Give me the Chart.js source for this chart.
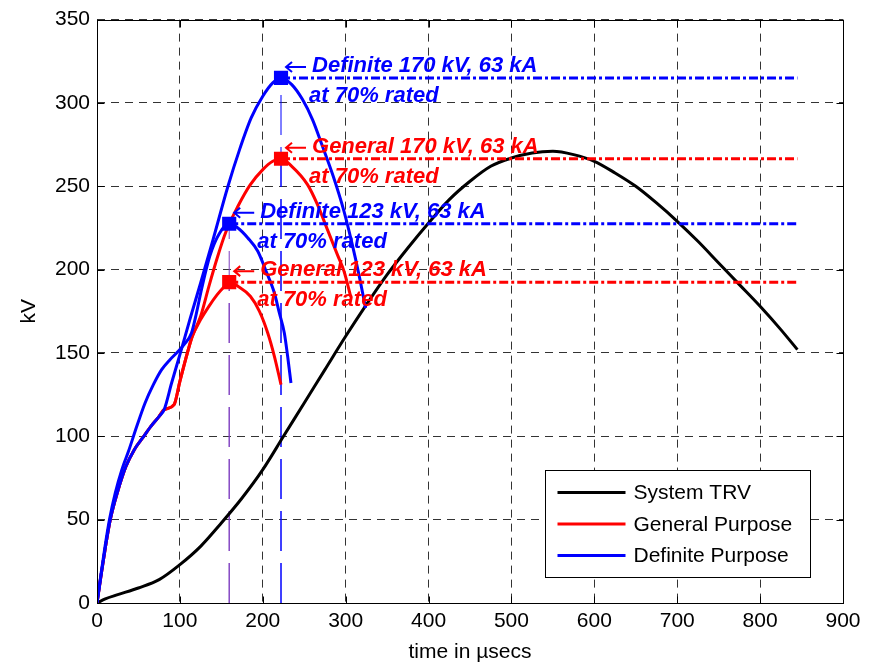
<!DOCTYPE html>
<html>
<head>
<meta charset="utf-8">
<script src="https://cdn.jsdelivr.net/npm/chart.js@4.4.1/dist/chart.umd.min.js"></script>
<style>
  html, body { margin: 0; padding: 0; background: #fff; }
  #wrap { width: 875px; height: 666px; }
</style>
</head>
<body>
<div id="wrap"><canvas id="chart" width="875" height="666"></canvas></div>
<script>
"use strict";

// System TRV (black)
const trvTime = [0, 10, 25, 50, 75, 100, 125, 150, 175, 200, 225, 250, 275, 300, 325, 350, 375, 400, 425, 450, 475, 500, 525, 550, 575, 600, 625, 650, 675, 700, 725, 750, 775, 800, 825, 845];
const trvKV = [0, 2.5, 5, 9, 14, 23, 34, 48, 63, 80, 100, 120, 140, 160, 179, 197, 213, 228, 242, 253, 262, 267, 270, 271, 269, 265, 258, 250, 240, 229, 217, 204, 191, 178, 164, 152];

// Definite purpose envelopes (blue)
const def170Time = [0, 5, 10, 16, 25, 35, 45, 55, 65, 75, 81, 90, 100, 112, 125, 140, 158, 172, 186, 200, 212, 222, 235, 248, 260, 272, 285, 298, 308, 316, 324];
const def170KV = [0, 17, 33, 50, 67, 82, 92, 99, 106, 112, 116, 132, 149, 170, 192, 218, 250, 272, 291, 304, 312, 315, 311, 302, 290, 274, 256, 235, 215, 197, 177];
const def123Time = [0, 5, 10, 15, 22, 30, 38, 48, 58, 68, 78, 88, 96, 105, 114, 120, 126, 136, 148, 159.5, 170, 182, 194, 204, 214, 220, 226, 230, 234];
const def123KV = [0, 18, 35, 50, 66, 80, 91, 106, 120, 131, 140, 146, 150, 155, 162, 174, 188, 208, 222, 227.5, 225, 219, 211, 199, 186, 174, 162, 148, 132];

// General purpose envelopes (red)
const gen170Time = [0, 5, 10, 16, 25, 35, 45, 55, 65, 75, 81, 93, 100, 109, 115, 125, 135, 145, 155, 170, 185, 200, 212, 222, 235, 254, 266, 278, 290, 298, 306];
const gen170KV = [0, 17, 33, 50, 67, 82, 92, 99, 106, 112, 116, 119, 133, 150, 160, 172, 190, 207, 222, 238, 251, 260, 265, 266.5, 262, 251, 239, 224, 209, 199, 184];
const gen123Time = [0, 5, 10, 16, 25, 35, 45, 55, 65, 75, 81, 93, 100, 109, 115, 125, 135, 145, 152, 159.5, 170, 185, 196, 206, 214, 222];
const gen123KV = [0, 17, 33, 50, 67, 82, 92, 99, 106, 112, 116, 119, 133, 150, 160, 170, 178, 185, 189, 192.5, 190, 184, 175, 162, 148, 131];

// Rated points at 70%
const ratingNames = ['Definite 170 kV, 63 kA', 'General 170 kV, 63 kA', 'Definite 123 kV, 63 kA', 'General 123 kV, 63 kA'];
const ratingNote = 'at 70% rated';
const ratingTime = [222, 222, 159.5, 159.5];
const ratingKV = [315, 266.5, 227.5, 192.5];
const ratingEnd = 845;

const legendNames = ['System TRV', 'General Purpose', 'Definite Purpose'];

const BLACK = '#000000';
const RED = '#ff0000';
const BLUE = '#0000ff';
const PURPLE = '#7f3fc0';
const ratingColors = [BLUE, RED, BLUE, RED];
const guideColors = [BLUE, BLUE, PURPLE, PURPLE];
const legendColors = [BLACK, RED, BLUE];
const FONT = '"Liberation Sans", Arial, Helvetica, sans-serif';

function toPoints(xs, ys) {
  return xs.map((x, i) => ({ x: x, y: ys[i] }));
}

function curve(xs, ys, color, order) {
  return {
    data: toPoints(xs, ys),
    showLine: true,
    borderColor: color,
    borderWidth: 3,
    pointRadius: 0,
    cubicInterpolationMode: 'monotone',
    order: order
  };
}

const datasets = [
  curve(def170Time, def170KV, BLUE, 2),
  curve(def123Time, def123KV, BLUE, 2),
  curve(gen170Time, gen170KV, RED, 3),
  curve(gen123Time, gen123KV, RED, 3),
  curve(trvTime, trvKV, BLACK, 4)
];

// dash-dot levels from each rated point to the right
ratingTime.forEach((t, i) => {
  datasets.push({
    data: [{ x: t, y: ratingKV[i] }, { x: ratingEnd, y: ratingKV[i] }],
    showLine: true,
    borderColor: ratingColors[i],
    borderWidth: 3,
    borderDash: [9, 3, 3, 3],
    pointRadius: 0,
    order: 1
  });
});

// thin vertical guides down to the time axis
ratingTime.forEach((t, i) => {
  datasets.push({
    data: [{ x: t, y: 0 }, { x: t, y: ratingKV[i] }],
    showLine: true,
    borderColor: guideColors[i],
    borderWidth: 1,
    borderDash: [40, 12],
    pointRadius: 0,
    order: 5
  });
});

// square markers on the rated points
datasets.push({
  data: toPoints(ratingTime, ratingKV),
  showLine: false,
  pointStyle: 'rect',
  pointRadius: 10,
  pointHoverRadius: 10,
  pointBackgroundColor: ratingColors,
  pointBorderColor: ratingColors,
  pointBorderWidth: 0,
  order: 0
});

const decorPlugin = {
  id: 'decor',
  beforeDraw(chart) {
    const ctx = chart.ctx;
    ctx.save();
    ctx.fillStyle = '#ffffff';
    ctx.fillRect(0, 0, chart.width, chart.height);
    ctx.restore();
  },
  afterDatasetsDraw(chart) {
    const ctx = chart.ctx;
    const x = chart.scales.x;
    const y = chart.scales.y;
    ctx.save();
    ctx.font = 'italic bold 22px ' + FONT;
    ctx.textBaseline = 'alphabetic';
    ctx.textAlign = 'left';
    ratingNames.forEach((name, i) => {
      const mx = x.getPixelForValue(ratingTime[i]);
      const my = y.getPixelForValue(ratingKV[i]);
      ctx.fillStyle = ratingColors[i];
      ctx.strokeStyle = ratingColors[i];
      ctx.fillText(name, mx + 31, my - 6);
      ctx.fillText(ratingNote, mx + 28, my + 24);
      const ay = my - 11;
      ctx.lineWidth = 2;
      ctx.beginPath();
      ctx.moveTo(mx + 25, ay);
      ctx.lineTo(mx + 5, ay);
      ctx.moveTo(mx + 11, ay - 5);
      ctx.lineTo(mx + 5, ay);
      ctx.lineTo(mx + 11, ay + 5);
      ctx.stroke();
    });
    ctx.restore();
  },
  afterDraw(chart) {
    const ctx = chart.ctx;
    const area = chart.chartArea;
    const x = chart.scales.x;
    const y = chart.scales.y;
    const l = Math.round(area.left) + 0.5;
    const r = Math.round(area.right) + 0.5;
    const t = Math.round(area.top) + 0.5;
    const b = Math.round(area.bottom) + 0.5;
    ctx.save();
    ctx.strokeStyle = BLACK;
    ctx.lineWidth = 1;
    ctx.setLineDash([]);
    ctx.strokeRect(l, t, r - l, b - t);

    // inward ticks on all four sides
    ctx.beginPath();
    x.ticks.forEach(tk => {
      const px = Math.round(x.getPixelForValue(tk.value)) + 0.5;
      ctx.moveTo(px, b); ctx.lineTo(px, b - 7);
      ctx.moveTo(px, t); ctx.lineTo(px, t + 7);
    });
    y.ticks.forEach(tk => {
      const py = Math.round(y.getPixelForValue(tk.value)) + 0.5;
      ctx.moveTo(l, py); ctx.lineTo(l + 7, py);
      ctx.moveTo(r, py); ctx.lineTo(r - 7, py);
    });
    ctx.stroke();

    // legend box
    const bw = 265, bh = 107;
    const bx = Math.round(area.right - 298) + 0.5;
    const by = Math.round(area.bottom - 133) + 0.5;
    ctx.fillStyle = '#ffffff';
    ctx.fillRect(bx, by, bw, bh);
    ctx.strokeRect(bx, by, bw, bh);
    ctx.font = '21px ' + FONT;
    ctx.textBaseline = 'middle';
    ctx.textAlign = 'left';
    legendNames.forEach((name, i) => {
      const ry = by + 22 + i * 31.5;
      ctx.strokeStyle = legendColors[i];
      ctx.lineWidth = 3;
      ctx.beginPath();
      ctx.moveTo(bx + 12, ry);
      ctx.lineTo(bx + 80, ry);
      ctx.stroke();
      ctx.fillStyle = BLACK;
      ctx.fillText(name, bx + 88, ry + 1);
    });
    ctx.restore();
  }
};

const gridOpts = {
  color: 'rgba(0,0,0,0.8)',
  lineWidth: 1,
  drawTicks: false
};

new Chart(document.getElementById('chart'), {
  type: 'scatter',
  data: { datasets: datasets },
  options: {
    responsive: false,
    animation: false,
    events: [],
    layout: { padding: { left: 0, top: 15, right: 32, bottom: 0 } },
    plugins: {
      legend: { display: false },
      tooltip: { enabled: false }
    },
    scales: {
      x: {
        type: 'linear',
        min: 0,
        max: 900,
        grid: gridOpts,
        border: { display: false, dash: [8, 6] },
        ticks: { stepSize: 100, color: BLACK, padding: 6, font: { family: FONT, size: 21 } },
        title: { display: true, text: 'time in \u00b5secs', color: BLACK, padding: { top: 0, bottom: 1 }, font: { family: FONT, size: 21 } },
        afterFit: (scale) => { scale.height = 63; }
      },
      y: {
        type: 'linear',
        min: 0,
        max: 350,
        grid: gridOpts,
        border: { display: false, dash: [8, 6] },
        ticks: { stepSize: 50, color: BLACK, padding: 7, font: { family: FONT, size: 21 } },
        title: { display: true, text: 'kV', color: BLACK, padding: { top: 17, bottom: 0 }, font: { family: FONT, size: 21 } },
        afterFit: (scale) => { scale.width = 97; }
      }
    }
  },
  plugins: [decorPlugin]
});
</script>
</body>
</html>
